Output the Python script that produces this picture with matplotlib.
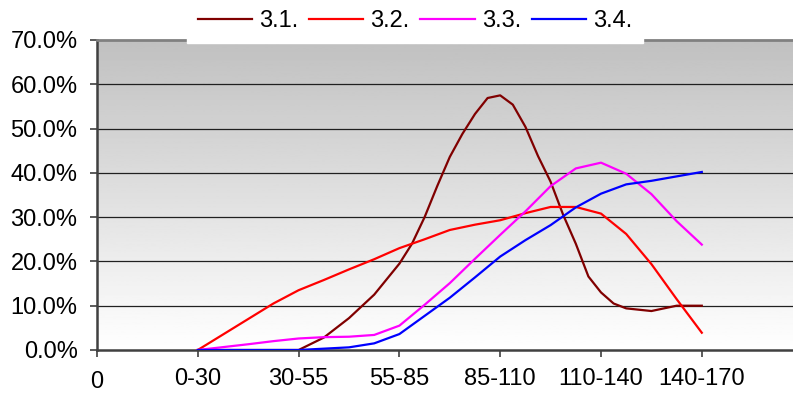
import numpy as np
import matplotlib
matplotlib.use("Agg")
from matplotlib import pyplot as plt
from matplotlib import transforms

plt.rcParams['font.family'] = ['Liberation Sans', 'DejaVu Sans']
plt.rcParams['font.size'] = 17

# category labels on the x axis
categories = ["0", "0-30", "30-55", "55-85", "85-110", "110-140", "140-170"]

# positions (in category units) where values were read, and the values in %
x_31 = [1, 2, 2.25, 2.5, 2.75, 3, 3.125, 3.25, 3.375, 3.5, 3.625, 3.75, 3.875, 4,
        4.125, 4.25, 4.375, 4.5, 4.625, 4.75, 4.875, 5, 5.125, 5.25, 5.5, 5.75, 6]
y_31 = [0, 0, 2.8, 7.2, 12.5, 19.5, 24, 30, 37, 43.6, 48.8, 53.3, 56.9, 57.5,
        55.4, 50.4, 43.8, 38, 30.5, 24, 16.6, 13, 10.5, 9.4, 8.8, 10, 10]

x_grid = [1, 1.25, 1.5, 1.75, 2, 2.25, 2.5, 2.75, 3, 3.25, 3.5, 3.75, 4,
          4.25, 4.5, 4.75, 5, 5.25, 5.5, 5.75, 6]
y_32 = [0, 3.5, 7, 10.5, 13.5, 15.8, 18.2, 20.5, 23, 25, 27.1, 28.3, 29.3,
        30.9, 32.3, 32.3, 30.8, 26.2, 19.4, 11.5, 3.9]
y_33 = [0, 0.65, 1.3, 2.0, 2.6, 2.9, 3.0, 3.4, 5.5, 10.2, 15.1, 20.6, 26,
        31.3, 37, 41, 42.3, 39.8, 35.2, 29.1, 23.8]
y_34 = [0, 0, 0, 0, 0, 0.3, 0.6, 1.5, 3.6, 7.7, 11.8, 16.4, 21.1,
        24.8, 28.2, 32.2, 35.3, 37.4, 38.2, 39.2, 40.2]

series = [
    ("3.1.", x_31, y_31, "#800000"),
    ("3.2.", x_grid, y_32, "#ff0000"),
    ("3.3.", x_grid, y_33, "#ff00ff"),
    ("3.4.", x_grid, y_34, "#0000ff"),
]

fig = plt.figure(figsize=(7.93, 3.93), dpi=100)
ax = fig.add_axes([97 / 793, 1 - 350 / 393, 1 - 97 / 793, 310 / 393])

# grey-to-white gradient behind the plot
grad = np.linspace(192, 255, 256).reshape(-1, 1) / 255.0
ax.imshow(grad, cmap="gray", vmin=0, vmax=1, aspect="auto",
          extent=[0, 1, 0, 1], transform=ax.transAxes, zorder=0)

for lab, xs, ys, col in series:
    ax.plot(xs, ys, color=col, lw=1.6, label=lab, zorder=3)

ax.set_xlim(0, (793 - 97) / 100.8)
ax.set_ylim(0, 70)
ax.set_yticks(np.arange(0, 71, 10))
ax.set_yticklabels(["%.1f%%" % v for v in np.arange(0, 71, 10)])
ax.set_xticks(range(len(categories)))
ax.set_xticklabels(categories)
ax.tick_params(axis="y", length=5, width=1.2, pad=9, color="#404040")
ax.tick_params(axis="x", length=5, width=1.2, pad=8, color="#404040")

# the first category label sits a bit lower
lbl0 = ax.get_xticklabels()[0]
lbl0.set_transform(lbl0.get_transform() +
                   transforms.ScaledTranslation(0, -0.025, fig.dpi_scale_trans))

for y in range(10, 70, 10):
    ax.axhline(y, color="#202020", lw=0.9, zorder=2)

ax.spines["right"].set_visible(False)
ax.spines["top"].set_color("#808080")
ax.spines["top"].set_linewidth(2)
ax.spines["left"].set_color("#404040")
ax.spines["left"].set_linewidth(1.8)
ax.spines["bottom"].set_color("#404040")
ax.spines["bottom"].set_linewidth(1.8)

leg = fig.legend(loc="center", bbox_to_anchor=(415 / 793, 1 - 21 / 393), ncol=4,
                 frameon=True, fancybox=False, facecolor="white", edgecolor="white",
                 framealpha=1, handlelength=2.3, handletextpad=0.3,
                 columnspacing=0.45, borderpad=0.45, borderaxespad=0)
leg.set_zorder(10)

fig.savefig("out.png", dpi=100)
